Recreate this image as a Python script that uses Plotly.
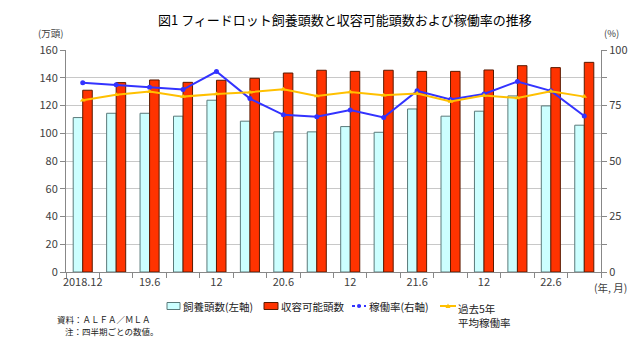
import plotly.graph_objects as go

quarters = ["2018.12", "19.3", "19.6", "19.9", "19.12", "20.3", "20.6", "20.9",
            "20.12", "21.3", "21.6", "21.9", "21.12", "22.3", "22.6", "22.9"]
tick_labels = ["2018.12", "19.6", "12", "20.6", "12", "21.6", "12", "22.6"]
feeding = [111.3, 114.4, 114.4, 112.3, 123.8, 108.7, 101.0, 101.0,
           104.8, 100.7, 117.5, 112.3, 115.9, 126.9, 119.7, 105.8]
capacity = [131.0, 136.5, 138.4, 136.7, 138.2, 139.6, 143.4, 145.4,
            144.6, 145.4, 144.6, 144.6, 145.6, 148.7, 147.3, 151.1]
rate = [85.2, 84.3, 83.2, 82.2, 90.3, 78.1, 70.8, 69.9,
        73.0, 69.6, 81.6, 77.7, 80.2, 85.8, 81.6, 70.3]
avg5 = [77.4, 79.8, 81.3, 79.0, 80.2, 81.0, 82.3, 79.3,
        81.1, 79.6, 80.4, 76.8, 79.5, 78.4, 81.4, 79.0]
legend_names = ["飼養頭数(左軸)", "収容可能頭数", "稼働率(右軸)", "過去5年<br>平均稼働率"]

CYAN, CYAN_LINE = "#CCFFFF", "#5a7a7a"
RED, RED_LINE = "#FF3300", "#5a1a00"
BLUE, YELLOW = "#3333FF", "#FFC000"

x = list(range(len(quarters)))
font = "Noto Sans CJK JP"

L, R, T, B = 66, 39, 50, 66
W, H = 640, 338
PW, PH = W - L - R, H - T - B


def px(v):
    return (v - L) / PW


def py(v):
    return (H - B - v) / PH


fig = go.Figure()
fig.add_trace(go.Bar(x=x, y=feeding, name=legend_names[0],
                     marker=dict(color=CYAN, line=dict(color=CYAN_LINE, width=1))))
fig.add_trace(go.Bar(x=x, y=capacity, name=legend_names[1],
                     marker=dict(color=RED, line=dict(color=RED_LINE, width=1))))
fig.add_trace(go.Scatter(x=x, y=rate, name=legend_names[2], yaxis="y2",
                         mode="lines+markers", line=dict(color=BLUE, width=2),
                         marker=dict(symbol="circle", size=5, color=BLUE)))
fig.add_trace(go.Scatter(x=x, y=avg5, name=legend_names[3], yaxis="y2",
                         mode="lines+markers", line=dict(color=YELLOW, width=2),
                         marker=dict(symbol="triangle-up", size=5, color=YELLOW)))

fig.update_layout(
    width=W, height=H,
    margin=dict(l=L, r=R, t=T, b=B, autoexpand=False),
    paper_bgcolor="white", plot_bgcolor="white",
    font=dict(family=font, size=11, color="#404040"),
    barmode="group", bargap=0.43, bargroupgap=0,
    showlegend=False,
    xaxis=dict(range=[-0.5, 15.5], tickvals=x[::2], ticktext=tick_labels,
               ticklen=0, showgrid=False, showline=True, linecolor="#888",
               tickfont=dict(size=11, color="#404040"), automargin=False,
               minor=dict(tick0=0.5, dtick=1, ticks="outside", ticklen=5, tickcolor="#888")),
    yaxis=dict(range=[0, 160], dtick=20, showgrid=True, gridcolor="#c8c8c8",
               showline=True, linecolor="#888", ticks="outside", ticklen=5, tickcolor="#888",
               zeroline=False, automargin=False),
    yaxis2=dict(range=[0, 100], dtick=25, overlaying="y", side="right", showgrid=False,
                showline=True, linecolor="#888", ticks="outside", ticklen=5, tickcolor="#888",
                minor=dict(dtick=12.5, ticks="outside", ticklen=5, tickcolor="#888"),
                zeroline=False, automargin=False),
)

# titles and unit labels
fig.add_annotation(text="図1 フィードロット飼養頭数と収容可能頭数および稼働率の推移",
                   xref="paper", yref="paper", x=px(345), y=py(19), xanchor="center", yanchor="middle",
                   showarrow=False, font=dict(size=13, color="#000"))
fig.add_annotation(text="(万頭)", xref="paper", yref="paper", x=px(50), y=py(33),
                   xanchor="center", yanchor="middle", showarrow=False,
                   font=dict(size=9.5, color="#404040"))
fig.add_annotation(text="(%)", xref="paper", yref="paper", x=px(611), y=py(33),
                   xanchor="center", yanchor="middle", showarrow=False,
                   font=dict(size=9.5, color="#404040"))
fig.add_annotation(text="(年, 月)", xref="paper", yref="paper", x=px(610), y=py(287),
                   xanchor="center", yanchor="middle", showarrow=False,
                   font=dict(size=10.5, color="#404040"))
fig.add_annotation(text="資料：ＡＬＦＡ／ＭＬＡ", xref="paper", yref="paper",
                   x=px(55), y=py(319), xanchor="left", yanchor="middle", align="left",
                   showarrow=False, font=dict(size=8.5, color="#222"))
fig.add_annotation(text="注：四半期ごとの数値。", xref="paper", yref="paper",
                   x=px(63), y=py(331), xanchor="left", yanchor="middle", align="left",
                   showarrow=False, font=dict(size=8.5, color="#222"))

# manual legend
ly = 306
fig.add_shape(type="rect", xref="paper", yref="paper", x0=px(167), x1=px(180),
              y0=py(ly - 3.5), y1=py(ly + 3.5), fillcolor=CYAN, line=dict(color=CYAN_LINE, width=1))
fig.add_shape(type="rect", xref="paper", yref="paper", x0=px(264), x1=px(278),
              y0=py(ly - 3.5), y1=py(ly + 3.5), fillcolor=RED, line=dict(color=RED_LINE, width=1))
fig.add_shape(type="line", xref="paper", yref="paper", x0=px(352), x1=px(366),
              y0=py(ly), y1=py(ly), line=dict(color=BLUE, width=2, dash="dot"))
fig.add_shape(type="circle", xref="paper", yref="paper", x0=px(357), x1=px(361),
              y0=py(ly - 2), y1=py(ly + 2), fillcolor=BLUE, line=dict(color=BLUE, width=0))
fig.add_shape(type="line", xref="paper", yref="paper", x0=px(440), x1=px(456),
              y0=py(ly), y1=py(ly), line=dict(color=YELLOW, width=2))
fig.add_shape(type="path", xref="paper", yref="paper",
              path=f"M {px(445.5)} {py(ly + 2)} L {px(450.5)} {py(ly + 2)} L {px(448)} {py(ly - 2.5)} Z",
              fillcolor=YELLOW, line=dict(color=YELLOW, width=0))
leg_text = [(181, ly, legend_names[0]), (279, ly, legend_names[1]),
            (367, ly, legend_names[2])]
for lx, yy, t in leg_text:
    fig.add_annotation(text=t, xref="paper", yref="paper", x=px(lx), y=py(yy),
                       xanchor="left", yanchor="middle", showarrow=False,
                       font=dict(size=10.5, color="#222"))
fig.add_annotation(text=legend_names[3], xref="paper", yref="paper", x=px(456), y=py(ly - 7),
                   xanchor="left", yanchor="top", align="left", showarrow=False,
                   font=dict(size=10.5, color="#222"))

fig.write_html("out.html")
